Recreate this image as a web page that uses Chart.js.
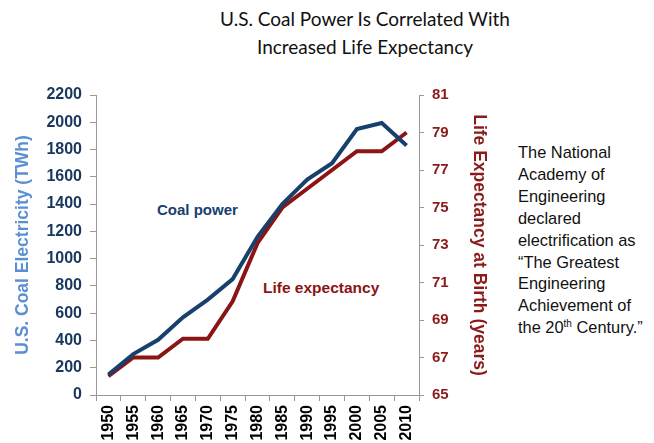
<!DOCTYPE html>
<html>
<head>
<meta charset="utf-8">
<script src="https://cdn.jsdelivr.net/npm/chart.js@4.4.0/dist/chart.umd.min.js"></script>
<style>
  body { margin: 0; background: #fff; width: 654px; height: 443px; overflow: hidden; position: relative; }
  #title { position: absolute; left: 150px; width: 430px; top: 5px; text-align: center;
           font-family: Lato, "Open Sans", sans-serif; font-size: 19px; line-height: 28px; color: #111; }
  .note { position: absolute; font-family: "Liberation Sans", Arial, sans-serif; font-weight: bold; font-size: 15px; }
  #side { position: absolute; left: 518px; top: 142px; font-family: "Liberation Sans", Arial, sans-serif;
          font-size: 16.4px; line-height: 21.9px; color: #111; }
  #side sup { font-size: 10px; line-height: 0; }
  canvas { position: absolute; left: 0; top: 0; }
</style>
</head>
<body>
<div id="title">U.S. Coal Power Is Correlated With<br>Increased Life Expectancy</div>
<div class="note" style="left:157px; top:201px; color:#17406d;">Coal power</div>
<div class="note" style="left:263px; top:279px; color:#8b1414; font-size:15.5px;">Life expectancy</div>
<div id="side">The National<br>Academy of<br>Engineering<br>declared<br>electrification as<br>“The Greatest<br>Engineering<br>Achievement of<br>the 20<sup>th</sup> Century.”</div>
<canvas id="chart" width="500" height="443"></canvas>
<script>
  // anos e valores
  const anos = ['1950','1955','1960','1965','1970','1975','1980','1985','1990','1995','2000','2005','2010'];
  const carvao = [150, 300, 405, 570, 700, 850, 1160, 1400, 1580, 1700, 1950, 1995, 1830];
  const expectativa = [66, 67, 67, 68, 68, 70, 73.1, 75, 76, 77, 78, 78, 79];

  const eixo = '#999';
  const familia = '"Liberation Sans", Arial, sans-serif';

  new Chart(document.getElementById('chart').getContext('2d'), {
    type: 'line',
    data: {
      labels: anos,
      datasets: [
        { label: 'Coal power', data: carvao, yAxisID: 'y', borderColor: '#17406d', borderWidth: 4,
          pointRadius: 0, tension: 0, fill: false },
        { label: 'Life expectancy', data: expectativa, yAxisID: 'y2', borderColor: '#8b1414', borderWidth: 4,
          pointRadius: 0, tension: 0, fill: false }
      ]
    },
    options: {
      responsive: false,
      animation: false,
      layout: { padding: { top: 95, left: 0, right: 0, bottom: 0 } },
      plugins: { legend: { display: false }, tooltip: { enabled: false } },
      scales: {
        x: {
          offset: true,
          grid: { offset: true, drawOnChartArea: false, color: eixo, tickLength: 6 },
          border: { color: eixo },
          ticks: { color: '#000', font: { family: familia, size: 16, weight: 'bold' }, minRotation: 90, maxRotation: 90, padding: 4 },
          afterFit: s => { s.height = 48; }
        },
        y: {
          position: 'left', min: 0, max: 2200,
          grid: { drawOnChartArea: false, color: eixo, tickLength: 6 },
          border: { color: eixo },
          ticks: { stepSize: 200, color: '#17375e', font: { family: familia, size: 16, weight: 'bold' }, padding: 8,
                   callback: v => String(v) },
          title: { display: true, text: 'U.S. Coal Electricity (TWh)', color: '#5b8fd3',
                   font: { family: familia, size: 17.5, weight: 'bold' }, padding: { top: 13, bottom: 0 } },
          afterFit: s => { s.width = 96; }
        },
        y2: {
          position: 'right', min: 65, max: 81,
          grid: { drawOnChartArea: false, color: eixo, tickLength: 5 },
          border: { color: eixo },
          ticks: { stepSize: 2, color: '#8b1a1a', font: { family: familia, size: 15, weight: 'bold' }, padding: 8 },
          title: { display: true, text: 'Life Expectancy at Birth (years)', color: '#8b1a1a',
                   font: { family: familia, size: 17.5, weight: 'bold' }, padding: { top: 11, bottom: 0 } },
          afterFit: s => { s.width = 81; }
        }
      }
    }
  });
</script>
</body>
</html>
